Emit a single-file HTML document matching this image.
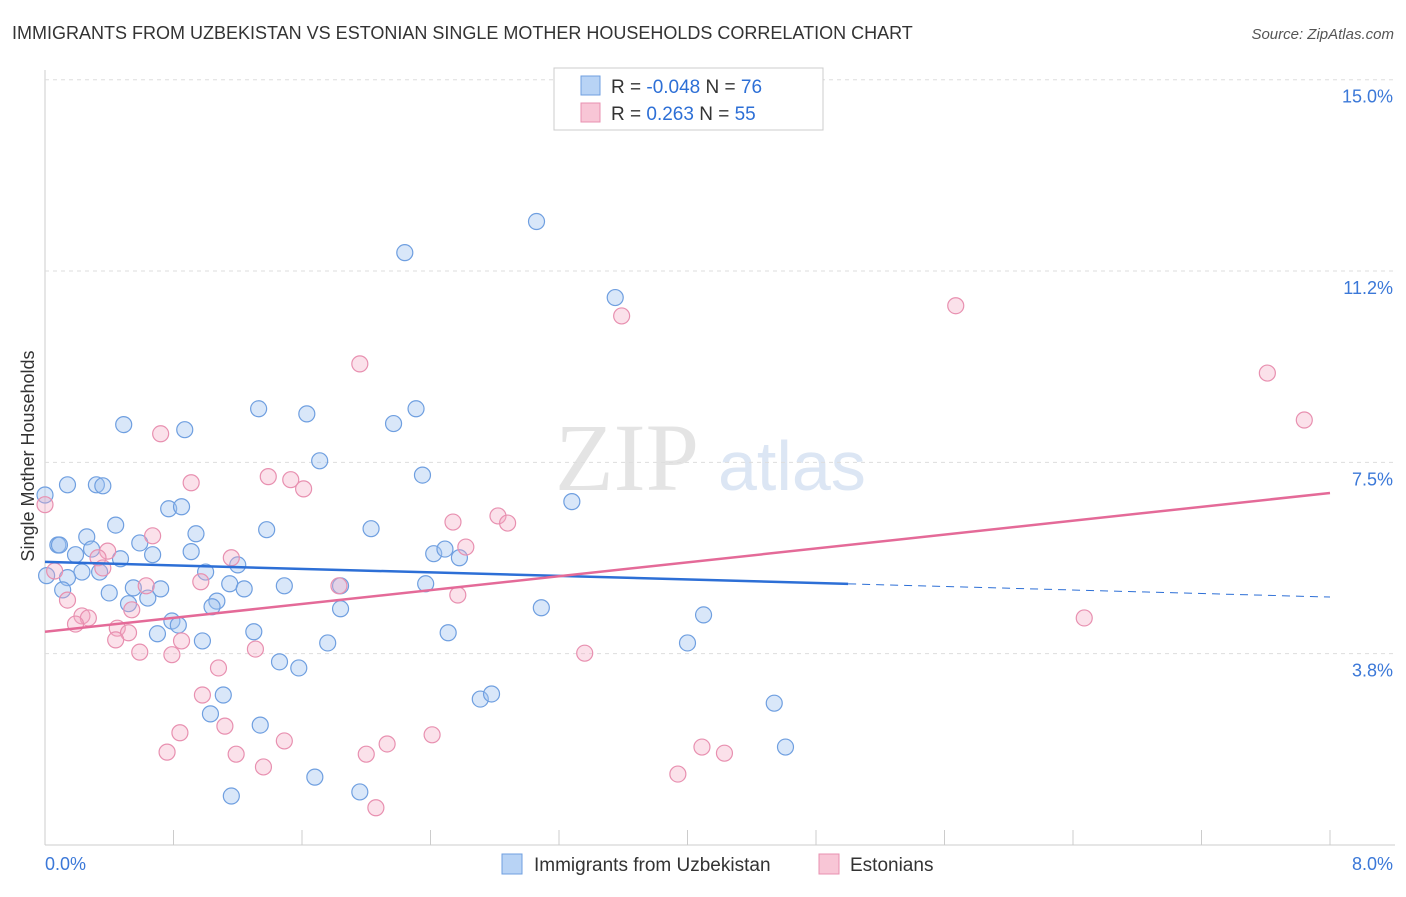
<!DOCTYPE html>
<html><head><meta charset="utf-8"><style>
body{margin:0;background:#fff;font-family:"Liberation Sans",sans-serif}
</style></head><body>
<svg width="1406" height="892" xmlns="http://www.w3.org/2000/svg" id="svg" style="font-family:'Liberation Sans',sans-serif">
<text x="12" y="39" font-size="18" fill="#333">IMMIGRANTS FROM UZBEKISTAN VS ESTONIAN SINGLE MOTHER HOUSEHOLDS CORRELATION CHART</text>
<text x="1394" y="39" font-size="15" fill="#555" text-anchor="end" font-style="italic">Source: ZipAtlas.com</text>
<text x="555" y="490" font-size="96" fill="#e4e4e4" font-family="Liberation Serif">ZIP</text>
<text x="718" y="490" font-size="70" fill="#dce6f4">atlas</text>
<text transform="translate(34,456) rotate(-90)" font-size="18" fill="#333" text-anchor="middle">Single Mother Households</text>
<g id="grid"></g><g id="pts"></g><g id="trend"></g>
<g>
<rect x="554" y="68" width="269" height="62" fill="#fff" stroke="#ccc"/>
<rect x="581" y="76" width="19" height="19" fill="#b8d3f5" stroke="#6f9fe0"/>
<rect x="581" y="103" width="19" height="19" fill="#f8c6d6" stroke="#e890b0"/>
<text x="611" y="93" font-size="19" fill="#333">R = <tspan fill="#2d6fd6">-0.048</tspan>   N = <tspan fill="#2d6fd6">76</tspan></text>
<text x="611" y="120" font-size="19" fill="#333">R =    <tspan fill="#2d6fd6">0.263</tspan>   N = <tspan fill="#2d6fd6">55</tspan></text>
</g>
<g>
<rect x="502" y="854" width="20" height="20" fill="#b8d3f5" stroke="#6f9fe0"/>
<text x="534" y="871" font-size="19" fill="#333">Immigrants from Uzbekistan</text>
<rect x="819" y="854" width="20" height="20" fill="#f8c6d6" stroke="#e890b0"/>
<text x="850" y="871" font-size="19" fill="#333">Estonians</text>
</g>
</svg>
<script>
const yTicks=[3.75,7.5,11.25,15];
const yTickLabels=["3.8%","7.5%","11.2%","15.0%"];
const xTickLabels=["0.0%","8.0%"];
const blueX=[3.06,2.24,3.55,0.49,0.87,1.33,1.63,2.31,2.17,1.71,2.35,0.14,0.32,0.36,0,0.77,0.85,3.28,0.44,0.94,1.38,2.03,0.26,0.08,0.29,0.59,0.67,0.91,0.47,2.42,2.49,2.58,0.19,0.23,0.34,0.14,1.0,1.2,0.11,0.40,0.55,0.72,1.15,1.24,1.49,1.84,2.37,0.64,0.52,1.07,1.04,1.84,3.09,4.10,0.79,0.83,0.70,1.30,2.51,0.98,1.76,4.00,1.46,1.58,1.11,1.03,2.71,2.78,4.54,1.34,4.61,1.68,1.96,1.16,0.01,0.09];
const blueY=[12.22,11.61,10.73,8.24,8.14,8.55,8.45,8.55,8.26,7.53,7.25,7.06,7.06,7.04,6.86,6.59,6.63,6.73,6.27,6.10,6.18,6.2,6.04,5.88,5.80,5.92,5.69,5.75,5.61,5.71,5.80,5.63,5.69,5.35,5.35,5.24,5.35,5.49,5.0,4.94,5.04,5.02,5.12,5.02,5.08,5.08,5.12,4.84,4.73,4.78,4.67,4.63,4.65,4.51,4.39,4.31,4.14,4.18,4.16,4.0,3.96,3.96,3.59,3.47,2.94,2.57,2.86,2.96,2.78,2.35,1.92,1.33,1.04,0.96,5.28,5.88];
const pinkX=[3.59,5.67,1.96,7.61,7.84,0.72,0.91,1.39,1.53,1.61,2.54,2.82,2.88,0.67,2.62,0,0.39,0.33,1.16,0.36,0.97,0.63,1.83,0.06,0.14,0.54,2.57,0.23,0.27,0.19,0.45,0.52,0.44,0.85,0.59,0.79,1.31,1.08,3.36,6.47,0.98,1.12,0.84,1.49,2.41,2.13,0.76,1.19,2.0,4.09,4.23,1.36,3.94,2.06];
const pinkY=[10.37,10.57,9.43,9.25,8.33,8.06,7.1,7.22,7.16,6.98,6.33,6.45,6.31,6.06,5.84,6.67,5.76,5.63,5.63,5.43,5.16,5.08,5.08,5.37,4.8,4.61,4.9,4.49,4.45,4.33,4.25,4.16,4.02,4.0,3.78,3.73,3.84,3.47,3.76,4.45,2.94,2.33,2.2,2.04,2.16,1.98,1.82,1.78,1.78,1.92,1.8,1.53,1.39,0.73];
const blueTrend=[5.55,4.86];
const pinkTrend=[4.18,6.90];
const NS="http://www.w3.org/2000/svg";
const X=v=>45+v*160.625, Y=v=>845-v*51.02;
function mk(t,a,p){const e=document.createElementNS(NS,t);for(const k in a)e.setAttribute(k,a[k]);p.appendChild(e);return e;}
const g=document.getElementById('grid');
mk('line',{x1:45,y1:70,x2:45,y2:845,stroke:'#ccc'},g);
mk('line',{x1:45,y1:845,x2:1395,y2:845,stroke:'#ccc'},g);
yTicks.forEach((t,i)=>{const l=mk('line',{x1:45,x2:1395,y1:Y(t),y2:Y(t),stroke:'#ddd','stroke-dasharray':'4,4'},g);

const tx=mk('text',{x:1393,y:Y(t)+23,'font-size':18,fill:'#3b78d8','text-anchor':'end'},g);tx.textContent=yTickLabels[i];
});
for(let i=0;i<=10;i++){const l=mk('line',{x1:X(i*0.8),x2:X(i*0.8),y1:830,y2:845,stroke:'#ccc'},g);
}
[[0,45,'start'],[8,1393,'end']].forEach((d,i)=>{const tx=mk('text',{x:d[1],y:870,'font-size':18,fill:'#3b78d8','text-anchor':d[2]},g);tx.textContent=xTickLabels[i];
});
const p=document.getElementById('pts');
function dots(xs,ys,fill,stroke,name){xs.forEach((x,i)=>{const c=mk('circle',{cx:X(x),cy:Y(ys[i]),r:8,fill:fill,stroke:stroke,'stroke-width':1.2},p);
});}
dots(blueX,blueY,'rgba(160,196,240,0.4)','#6f9fe0','uzbekistan-point');
dots(pinkX,pinkY,'rgba(244,170,196,0.35)','#e890b0','estonian-point');
const tr=document.getElementById('trend');
const bm=blueTrend[0]+(blueTrend[1]-blueTrend[0])*(5.0/8);
let l=mk('line',{x1:X(0),y1:Y(blueTrend[0]),x2:X(5.0),y2:Y(bm),stroke:'#2d6fd6','stroke-width':2.5},tr);

l=mk('line',{x1:X(5.0),y1:Y(bm),x2:X(8),y2:Y(blueTrend[1]),stroke:'#2d6fd6','stroke-width':1,'stroke-dasharray':'8,6'},tr);

l=mk('line',{x1:X(0),y1:Y(pinkTrend[0]),x2:X(8),y2:Y(pinkTrend[1]),stroke:'#e46a98','stroke-width':2.5},tr);

</script>
</body></html>
